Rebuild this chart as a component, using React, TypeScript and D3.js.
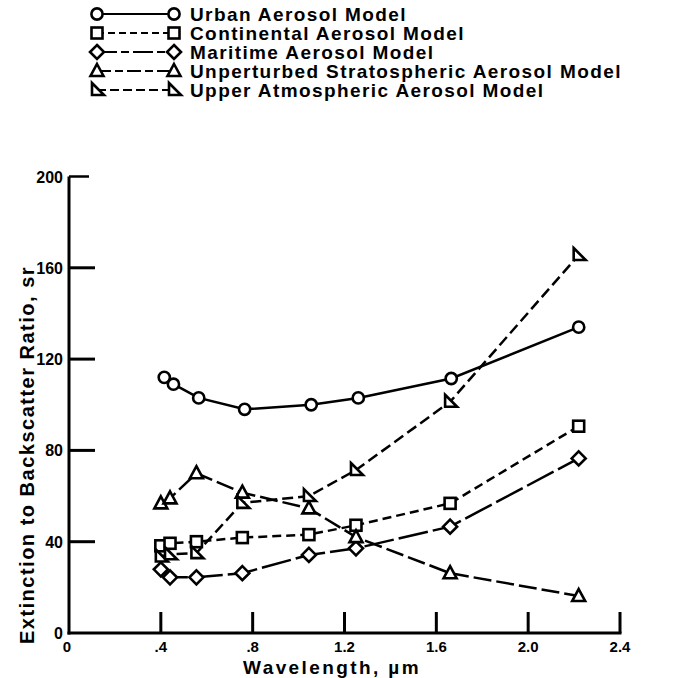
import * as d3 from 'd3'

// ── data ────────────────────────────────────────────────────────────────────
const WAVELENGTHS = [0.40, 0.44, 0.555, 0.755, 1.045, 1.25, 1.66, 2.22]
const URBAN_WL    = [0.415, 0.455, 0.565, 0.765, 1.055, 1.26, 1.665, 2.22]

const URBAN       = [112, 109, 103, 98, 100, 103, 111.5, 134]
const CONTINENTAL = [38.2, 39.3, 40, 41.8, 43.1, 47.2, 56.8, 90.6]
const MARITIME    = [27.9, 24.4, 24.4, 26.2, 34.2, 37.1, 46.6, 76.5]
const UNPERTURBED = [56.8, 59, 70, 61.5, 54.6, 42, 26.2, 16.2]
const UPPER       = [33.5, 34.5, 35, 57, 60, 71.4, 101.3, 165.6]

const X_TICKS = [0.4, 0.8, 1.2, 1.6, 2.0, 2.4]
const X_LABELS = ['0', '.4', '.8', '1.2', '1.6', '2.0', '2.4']
const Y_TICKS = [40, 80, 120, 160]
const Y_LABELS = [0, 40, 80, 120, 160, 200]

type Marker = 'circle' | 'square' | 'diamond' | 'triangle' | 'rtriangle'
type Series = { name: string; xs: number[]; ys: number[]; marker: Marker; dash: string | null; legendDash: string | null }

const SERIES: Series[] = [
  { name: 'Urban Aerosol Model',                     xs: URBAN_WL,    ys: URBAN,       marker: 'circle',    dash: null,    legendDash: null },
  { name: 'Continental Aerosol Model',               xs: WAVELENGTHS, ys: CONTINENTAL, marker: 'square',    dash: '9,5',   legendDash: '7,4' },
  { name: 'Maritime Aerosol Model',                  xs: WAVELENGTHS, ys: MARITIME,    marker: 'diamond',   dash: '30,5',  legendDash: '20,4,8,4' },
  { name: 'Unperturbed Stratospheric Aerosol Model', xs: WAVELENGTHS, ys: UNPERTURBED, marker: 'triangle',  dash: '18,5',  legendDash: '14,4,8,4' },
  { name: 'Upper Atmospheric Aerosol Model',         xs: WAVELENGTHS, ys: UPPER,       marker: 'rtriangle', dash: '11,5',  legendDash: '9,4' },
]

// ── layout ──────────────────────────────────────────────────────────────────
const W = 676
const H = 678
const FONT = '"Liberation Sans", Arial, sans-serif'
const INK = '#000'

const x = d3.scaleLinear().domain([0, 2.4]).range([69, 620])
const y = d3.scaleLinear().domain([0, 200]).range([633, 176.5])

function MarkerShape({ kind, cx, cy }: { kind: Marker; cx: number; cy: number }) {
  const common = { fill: '#fff', stroke: INK, strokeWidth: 2.6, strokeLinejoin: 'miter' as const }
  switch (kind) {
    case 'circle':
      return <circle cx={cx} cy={cy} r={5.6} {...common} />
    case 'square':
      return <rect x={cx - 5.5} y={cy - 5.5} width={11} height={11} {...common} />
    case 'diamond':
      return <path d={`M${cx},${cy - 7}L${cx + 7},${cy}L${cx},${cy + 7}L${cx - 7},${cy}Z`} {...common} />
    case 'triangle':
      return <path d={`M${cx},${cy - 7}L${cx + 6.5},${cy + 5}L${cx - 6.5},${cy + 5}Z`} {...common} />
    case 'rtriangle':
      return <path d={`M${cx - 5},${cy - 7}L${cx + 7},${cy + 5}L${cx - 5},${cy + 5}Z`} {...common} />
  }
}

export default function App() {
  const line = d3.line<[number, number]>().x(d => x(d[0])).y(d => y(d[1]))

  const legendX0 = 97
  const legendX1 = 174
  const legendTextX = 190
  const legendY0 = 14
  const legendStep = 19

  return (
    <svg width={W} height={H} viewBox={`0 0 ${W} ${H}`}
      style={{ position: 'absolute', left: 0, top: 0, background: '#fff', display: 'block' }}
      fontFamily={FONT} fontWeight="bold">

      {/* legend */}
      {SERIES.map((s, i) => {
        const ly = legendY0 + i * legendStep
        return (
          <g key={s.name}>
            <line x1={legendX0} x2={legendX1} y1={ly} y2={ly} stroke={INK} strokeWidth={2.2}
              strokeDasharray={s.legendDash ?? undefined} />
            <MarkerShape kind={s.marker} cx={legendX0} cy={ly} />
            <MarkerShape kind={s.marker} cx={legendX1} cy={ly} />
            <text x={legendTextX} y={ly + 7} fontSize={19} fill={INK} letterSpacing={1.4}>{s.name}</text>
          </g>
        )
      })}

      {/* axes */}
      <line x1={x(0)} x2={x(0)} y1={y(0) + 1.5} y2={y(200)} stroke={INK} strokeWidth={3} />
      <line x1={x(0) - 1.5} x2={x(2.4) + 1.5} y1={y(0)} y2={y(0)} stroke={INK} strokeWidth={3} />
      {Y_TICKS.map(t => (
        <line key={t} x1={x(0)} x2={x(0) + 26} y1={y(t)} y2={y(t)} stroke={INK} strokeWidth={3} />
      ))}
      <line x1={x(0)} x2={x(0) + 20} y1={y(200)} y2={y(200)} stroke={INK} strokeWidth={2.5} />
      {X_TICKS.map(t => (
        <line key={t} x1={x(t)} x2={x(t)} y1={y(0)} y2={y(0) - 21} stroke={INK} strokeWidth={3} />
      ))}
      {Y_LABELS.map(t => (
        <text key={t} x={x(0) - 6} y={y(t) + 6} textAnchor="end" fontSize={16} fill={INK}>{t}</text>
      ))}
      {X_LABELS.map((l, i) => (
        <text key={l} x={x(i * 0.4) + (i === 0 ? -2 : 0)} y={y(0) + 19} textAnchor="middle" fontSize={15} fill={INK}>{l}</text>
      ))}

      <text x={332} y={y(0) + 41} textAnchor="middle" fontSize={19} fill={INK} letterSpacing={2.4}>Wavelength, µm</text>
      <text transform={`translate(34,455) rotate(-90)`} textAnchor="middle" fontSize={20} fill={INK} letterSpacing={1.5}>
        Extinction to Backscatter Ratio, sr
      </text>

      {/* series lines */}
      {SERIES.map(s => (
        <path key={s.name} d={line(s.xs.map((v, i) => [v, s.ys[i]] as [number, number])) ?? ''}
          fill="none" stroke={INK} strokeWidth={2.5} strokeDasharray={s.dash ?? undefined} />
      ))}
      {/* markers */}
      {SERIES.map(s => (
        <g key={s.name}>
          {s.xs.map((v, i) => <MarkerShape key={i} kind={s.marker} cx={x(v)} cy={y(s.ys[i])} />)}
        </g>
      ))}
    </svg>
  )
}
